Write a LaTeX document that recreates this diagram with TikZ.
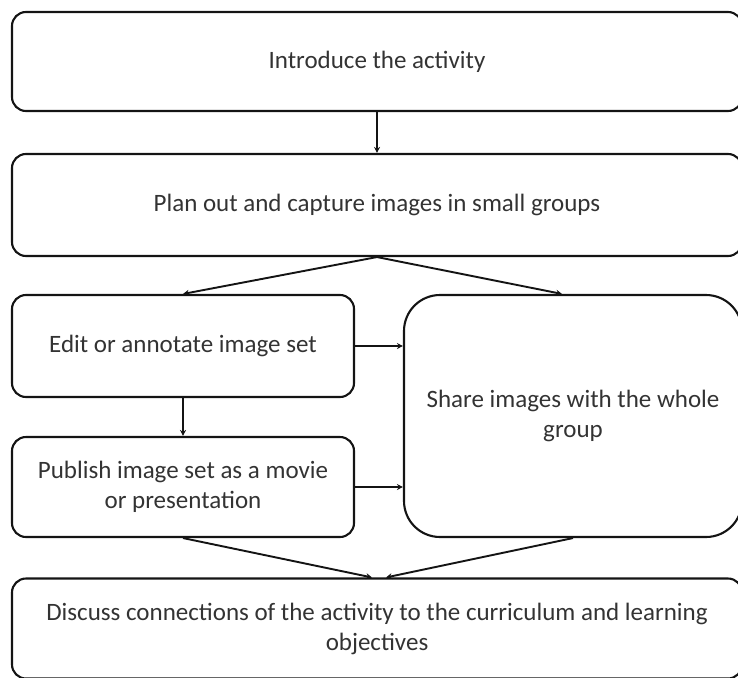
\documentclass[tikz,border=0pt]{standalone}
\usepackage{fontspec}
\setmainfont{Carlito}
\usetikzlibrary{arrows.meta}
\begin{document}
\begin{tikzpicture}[x=1pt,y=-1pt,
  box/.style={draw=black!92, line width=2.1pt, rounded corners=14pt, align=center,
    inner sep=0pt, text=black!80, font=\fontsize{25}{30}\selectfont},
  conn/.style={draw=black!92, line width=1.9pt, -{Stealth[length=6pt,width=6pt]}}]
\useasboundingbox (0,0) rectangle (738,677);
\clip (0,0) rectangle (738,677);
\node[box, minimum width=730pt, minimum height=99pt] (b1) at (377,61.5) {Introduce the activity};
\node[box, minimum width=730pt, minimum height=102pt] (b2) at (377,205) {Plan out and capture images in small groups};
\node[box, minimum width=342pt, minimum height=102pt] (edit) at (183,346) {Edit or annotate image set};
\node[box, minimum width=342pt, minimum height=100pt] (pub) at (183,487) {Publish image set as a movie\\or presentation};
\node[box, rounded corners=36pt, minimum width=338pt, minimum height=242pt] (share) at (573,416) {Share images with the whole\\group};
\node[box, minimum width=730pt, minimum height=100pt] (bot) at (377,628.5) {Discuss connections of the activity to the curriculum and learning\\objectives};
\draw[conn] (b1.south) -- (b2.north);
\draw[conn] (b2.south) -- (edit.north);
\draw[conn] (b2.south) -- ([xshift=-11pt]share.north);
\draw[conn] (edit.south) -- (pub.north);
\draw[conn] (edit.east) -- (edit.east -| share.west);
\draw[conn] (pub.east) -- (pub.east -| share.west);
\draw[conn] (pub.south) -- ([xshift=-5pt]bot.north);
\draw[conn] (share.south) -- ([xshift=9pt]bot.north);
\end{tikzpicture}
\end{document}
